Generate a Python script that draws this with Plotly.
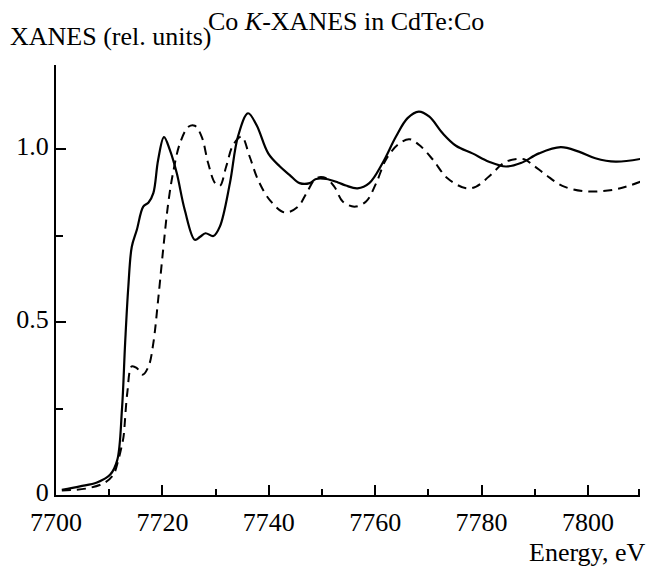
import plotly.graph_objects as go

# Solid curve
solid_E = [7701.1, 7704.5, 7707.7, 7710.2, 7711.5, 7712.4, 7713.0, 7713.6, 7714.25, 7715.2,
           7716.4, 7717.4, 7718.3, 7719.2, 7720.3, 7721.4, 7722.7, 7724.2, 7726.1, 7727.1,
           7728.1, 7729.6, 7730.8, 7732.7, 7734.2, 7736.1, 7737.7, 7739.9, 7742.1, 7743.9,
           7745.8, 7747.7, 7748.9, 7750.8, 7753.0, 7754.5, 7756.7, 7758.9, 7761.4, 7763.9,
           7766.1, 7768.2, 7770.2, 7772.7, 7775.2, 7778.3, 7781.4, 7784.6, 7787.4, 7790.8,
           7794.9, 7798.3, 7801.4, 7805.2, 7809.9]
solid_v = [0.015, 0.025, 0.036, 0.059, 0.10, 0.247, 0.44, 0.603, 0.718, 0.767,
           0.834, 0.846, 0.873, 0.969, 1.035, 0.998, 0.931, 0.825, 0.738, 0.747,
           0.757, 0.749, 0.776, 0.902, 1.036, 1.104, 1.070, 0.988, 0.950, 0.926,
           0.902, 0.902, 0.914, 0.914, 0.904, 0.895, 0.887, 0.902, 0.960, 1.036,
           1.090, 1.109, 1.094, 1.046, 1.010, 0.988, 0.964, 0.950, 0.960, 0.988,
           1.006, 0.993, 0.974, 0.964, 0.972]

# Dashed curve
dash_E = [7701.1, 7705.8, 7709.2, 7710.8, 7711.7, 7712.4, 7712.7, 7713.4, 7714.25, 7715.2,
          7716.3, 7717.4, 7718.3, 7719.2, 7720.2, 7721.1, 7722.0, 7723.3, 7724.9, 7726.1,
          7727.4, 7728.6, 7729.9, 7730.8, 7732.0, 7733.3, 7734.9, 7736.4, 7738.0, 7740.2,
          7743.0, 7745.5, 7747.1, 7748.9, 7750.8, 7752.4, 7753.9, 7756.1, 7758.3, 7760.2,
          7762.0, 7764.2, 7766.4, 7768.3, 7770.8, 7773.6, 7777.1, 7779.0, 7781.4, 7784.6,
          7788.0, 7789.6, 7792.1, 7795.2, 7799.0, 7802.7, 7806.1, 7809.9]
dash_v = [0.013, 0.019, 0.036, 0.059, 0.10, 0.145, 0.169, 0.295, 0.372, 0.367,
          0.348, 0.372, 0.439, 0.564, 0.718, 0.844, 0.931, 1.017, 1.065, 1.068,
          1.036, 0.960, 0.902, 0.894, 0.950, 1.012, 1.036, 0.979, 0.911, 0.853,
          0.817, 0.834, 0.873, 0.916, 0.916, 0.890, 0.849, 0.834, 0.849, 0.902,
          0.969, 1.012, 1.029, 1.012, 0.971, 0.916, 0.887, 0.892, 0.921, 0.964,
          0.971, 0.955, 0.926, 0.894, 0.879, 0.879, 0.887, 0.906]

x_ticks = [7700, 7720, 7740, 7760, 7780, 7800]
x_minor = [7710, 7730, 7750, 7770, 7790, 7809.6]
y_ticks = [0, 0.5, 1.0]
y_tick_text = ["0", "0.5", "1.0"]
y_minor = [0.25, 0.75, 1.241]

FONT = "Liberation Serif"
FS = 26

fig = go.Figure()
fig.add_trace(go.Scatter(x=dash_E, y=dash_v, mode="lines", line_shape="spline",
                         line=dict(color="black", width=2, dash="9px,6px"), showlegend=False))
fig.add_trace(go.Scatter(x=solid_E, y=solid_v, mode="lines", line_shape="spline",
                         line=dict(color="black", width=2.2), showlegend=False))

W, H = 651, 569
L, R, T, B = 56, 11, 65, 74
pw, ph = W - L - R, H - T - B

def px(xp):
    return (xp - L) / pw

def py(yp):
    return (H - B - yp) / ph

fig.update_layout(
    width=W, height=H,
    margin=dict(l=L, r=R, t=T, b=B),
    paper_bgcolor="white", plot_bgcolor="white",
    font=dict(family=FONT, size=FS, color="black"),
    xaxis=dict(range=[7700, 7809.8], tickvals=x_ticks, ticktext=[str(v) for v in x_ticks],
               ticks="inside", ticklen=10, tickwidth=2, tickcolor="black",
               showline=True, linecolor="black", linewidth=2, showgrid=False, zeroline=False,
               ticklabelstandoff=3,
               minor=dict(tickvals=x_minor, ticks="inside", ticklen=6, tickwidth=2, tickcolor="black"),
               tickfont=dict(family=FONT, size=FS)),
    yaxis=dict(range=[0, 1.2436], tickvals=y_ticks, ticktext=y_tick_text,
               ticks="inside", ticklen=10, tickwidth=2, tickcolor="black",
               showline=True, linecolor="black", linewidth=2, showgrid=False, zeroline=False,
               ticklabelshift=-3,
               minor=dict(tickvals=y_minor, ticks="inside", ticklen=7, tickwidth=2, tickcolor="black"),
               tickfont=dict(family=FONT, size=FS)),
    annotations=[
        dict(text="Co <i>K</i>-XANES in CdTe:Co", xref="paper", yref="paper",
             x=px(346), y=py(22), xanchor="center", yanchor="middle", showarrow=False,
             font=dict(family=FONT, size=FS)),
        dict(text="XANES (rel. units)", xref="paper", yref="paper",
             x=px(8), y=py(37), xanchor="left", yanchor="middle", showarrow=False,
             font=dict(family=FONT, size=FS)),
        dict(text="Energy, eV", xref="paper", yref="paper",
             x=px(647), y=py(552), xanchor="right", yanchor="middle", showarrow=False,
             font=dict(family=FONT, size=FS)),
    ],
)

fig.write_html("out.html")
